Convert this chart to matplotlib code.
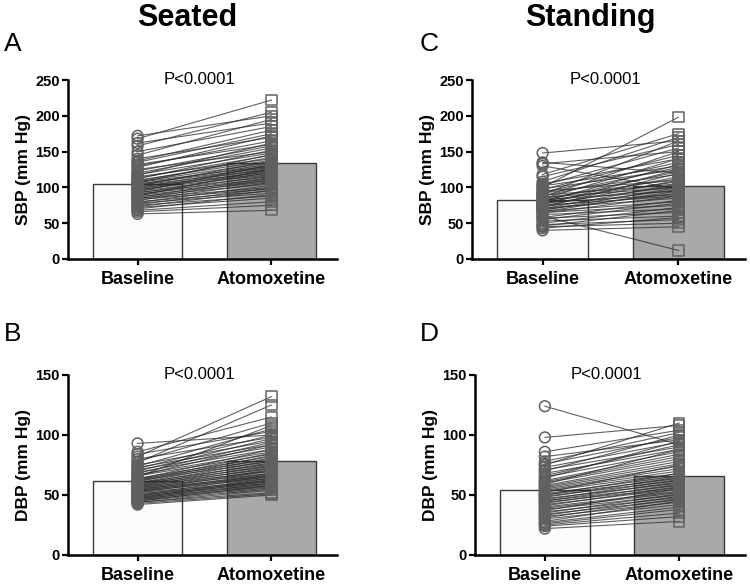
import matplotlib
matplotlib.use("Agg")
import matplotlib.pyplot as plt

plt.rcParams['font.family'] = ['Liberation Sans', 'DejaVu Sans']

categories = ["Baseline", "Atomoxetine"]

# Panel A: seated SBP
a_base = [172, 168, 162, 158, 150, 145, 140, 137, 135, 132, 130, 128, 125, 123, 120,
          118, 117, 115, 113, 112, 110, 109, 108, 107, 106, 105, 104, 103, 102, 101,
          100, 99, 98, 97, 96, 95, 94, 93, 92, 91, 90, 89, 88, 87, 86,
          85, 84, 83, 82, 80, 79, 78, 76, 75, 73, 72, 70, 68, 66, 63]
a_atx = [200, 222, 190, 205, 185, 195, 170, 180, 175, 160, 165, 172, 150, 158, 155,
         148, 162, 140, 145, 152, 138, 142, 135, 130, 146, 128, 133, 125, 137, 122,
         130, 120, 127, 118, 124, 115, 132, 112, 121, 110, 117, 108, 126, 105, 114,
         100, 111, 98, 107, 95, 103, 92, 99, 88, 96, 85, 90, 80, 75, 68]
a_means = [105, 134]

# Panel B: seated DBP
b_base = [93, 86, 84, 82, 80, 78, 77, 75, 74, 73, 72, 71, 70, 69, 68,
          67, 66, 66, 65, 64, 63, 63, 62, 62, 61, 60, 60, 59, 59, 58,
          58, 57, 57, 56, 56, 55, 55, 54, 54, 53, 53, 52, 52, 51, 50,
          50, 49, 49, 48, 48, 47, 47, 46, 46, 45, 45, 44, 44, 43, 42]
b_atx = [100, 115, 103, 132, 98, 110, 125, 95, 105, 92, 100, 90, 97, 88, 94,
         86, 92, 84, 108, 82, 88, 80, 85, 78, 83, 76, 81, 74, 79, 72,
         77, 70, 75, 68, 73, 66, 71, 65, 70, 64, 68, 62, 67, 61, 66,
         60, 64, 59, 63, 58, 62, 57, 60, 56, 58, 55, 54, 52, 51, 50]
b_means = [62, 78]

# Panel C: standing SBP
c_base = [148, 135, 133, 130, 118, 115, 108, 105, 103, 102, 100, 98, 97, 95, 93,
          92, 90, 89, 88, 87, 86, 85, 84, 83, 82, 81, 80, 79, 78, 77,
          76, 75, 74, 73, 72, 71, 70, 69, 68, 67, 66, 65, 64, 62, 60,
          58, 57, 55, 53, 50, 48, 46, 45, 43, 40]
c_atx = [165, 120, 150, 98, 175, 160, 170, 140, 155, 130, 198, 125, 145, 110, 135,
         118, 165, 105, 128, 150, 100, 112, 140, 95, 122, 108, 132, 90, 115, 102,
         125, 88, 110, 97, 120, 85, 105, 92, 100, 80, 95, 75, 88, 70, 12,
         82, 65, 78, 60, 72, 55, 68, 50, 58, 45]
c_means = [83, 102]

# Panel D: standing DBP
d_base = [124, 98, 86, 82, 78, 76, 75, 73, 71, 70, 68, 66, 65, 64, 62,
          61, 60, 59, 58, 57, 56, 55, 54, 53, 52, 51, 50, 50, 49, 48,
          47, 46, 45, 45, 44, 43, 42, 41, 40, 39, 38, 37, 36, 35, 34,
          33, 32, 31, 30, 28, 27, 26, 25, 24, 22]
d_atx = [92, 108, 104, 96, 102, 98, 110, 94, 90, 100, 88, 92, 86, 95, 84,
         82, 80, 88, 78, 76, 74, 72, 70, 68, 75, 66, 64, 68, 62, 65,
         60, 63, 58, 61, 56, 59, 55, 57, 53, 52, 50, 55, 48, 51, 46,
         49, 44, 47, 42, 45, 40, 38, 35, 32, 28]
d_means = [54, 66]

p_text = "P<0.0001"

fig = plt.figure(figsize=(7.5, 5.85), dpi=100)

panels = [
    ("A", a_base, a_atx, a_means, [68, 80, 337, 259], 250, [0, 50, 100, 150, 200, 250], "SBP (mm Hg)", (4, 44)),
    ("C", c_base, c_atx, c_means, [472, 80, 745, 259], 250, [0, 50, 100, 150, 200, 250], "SBP (mm Hg)", (420, 44)),
    ("B", b_base, b_atx, b_means, [68, 375, 337, 555], 150, [0, 50, 100, 150], "DBP (mm Hg)", (4, 334)),
    ("D", d_base, d_atx, d_means, [475, 375, 745, 555], 150, [0, 50, 100, 150], "DBP (mm Hg)", (420, 334)),
]

W, H = 750, 585
for letter, base, atx, means, box, ymax, yt, ylab, lpos in panels:
    l, t, r, b = box
    ax = fig.add_axes([l / W, 1 - b / H, (r - l) / W, (b - t) / H])
    xs = [0, 1]
    ax.bar(xs, means, width=0.67, color=["#fbfbfb", "#a9a9a9"],
           edgecolor="#3a3a3a", linewidth=1.0, zorder=1)
    for y0, y1 in zip(base, atx):
        ax.plot(xs, [y0, y1], color="#2a2a2a", lw=0.8, alpha=0.75, zorder=2,
                clip_on=False)
    ax.scatter([0] * len(base), base, s=60, marker="o", facecolors="none",
               edgecolors="#606060", linewidths=1.1, zorder=3, clip_on=False)
    ax.scatter([1] * len(atx), atx, s=55, marker="s", facecolors="none",
               edgecolors="#606060", linewidths=1.1, zorder=3, clip_on=False)
    ax.set_xlim(-0.52, 1.49)
    ax.set_ylim(0, ymax)
    ax.set_yticks(yt)
    ax.set_yticklabels([str(v) for v in yt], fontsize=10.5, fontweight="bold")
    ax.set_xticks(xs)
    ax.set_xticklabels(categories, fontsize=13, fontweight="bold")
    ax.set_ylabel(ylab, fontsize=12.5, fontweight="bold", labelpad=3)
    for s in ["top", "right"]:
        ax.spines[s].set_visible(False)
    for s in ["left", "bottom"]:
        ax.spines[s].set_linewidth(1.8)
    ax.tick_params(axis="both", width=1.6, length=4, pad=2)
    ax.tick_params(axis="x", pad=5)
    ax.text(0.46, ymax, p_text, fontsize=12, ha="center", va="center")
    fig.text(lpos[0] / W, 1 - lpos[1] / H, letter, fontsize=19, ha="left", va="center")

fig.text(187 / W, 1 - 18 / H, "Seated", fontsize=22, fontweight="bold", ha="center", va="center")
fig.text(590 / W, 1 - 18 / H, "Standing", fontsize=22, fontweight="bold", ha="center", va="center")

fig.savefig("out.png", dpi=100)
